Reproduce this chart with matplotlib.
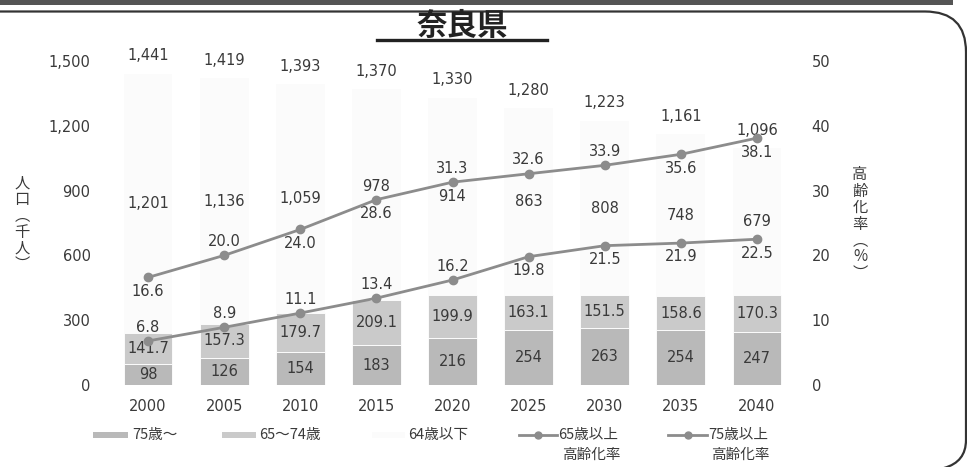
import matplotlib
matplotlib.use("Agg")
import matplotlib.pyplot as plt
from matplotlib.path import Path
from matplotlib.patches import PathPatch, Rectangle
from matplotlib.lines import Line2D
import numpy as np

plt.rcParams['font.family'] = ['DejaVu Sans', 'Noto Sans CJK JP']

# ---- data ----
years = ['2000', '2005', '2010', '2015', '2020', '2025', '2030', '2035', '2040']
pop_75over = [98, 126, 154, 183, 216, 254, 263, 254, 247]
pop_65_74 = [141.7, 157.3, 179.7, 209.1, 199.9, 163.1, 151.5, 158.6, 170.3]
pop_under64 = [1201, 1136, 1059, 978, 914, 863, 808, 748, 679]
pop_total = [1441, 1419, 1393, 1370, 1330, 1280, 1223, 1161, 1096]
rate_65over = [16.6, 20.0, 24.0, 28.6, 31.3, 32.6, 33.9, 35.6, 38.1]
rate_75over = [6.8, 8.9, 11.1, 13.4, 16.2, 19.8, 21.5, 21.9, 22.5]
left_ticks = [0, 300, 600, 900, 1200, 1500]
right_ticks = [0, 10, 20, 30, 40, 50]

W, H = 967, 467
fig = plt.figure(figsize=(W / 100, H / 100), dpi=100)
fx = lambda x: x / W
fy = lambda y: 1 - y / H

txt = '#3a3a3a'
c75 = '#b9b9b9'
c6574 = '#cacaca'
cu64 = '#fbfbfb'
cline = '#8c8c8c'
jp = ['Noto Sans CJK JP', 'DejaVu Sans']

ax = fig.add_axes([fx(110), fy(385), (795 - 110) / W, (385 - 61) / H])
ax2 = ax.twinx()
x = np.arange(len(years))
bw = 0.64
b1 = np.array(pop_75over, dtype=float)
b2 = np.array(pop_65_74, dtype=float)
b3 = np.array(pop_under64, dtype=float)

ax.bar(x, b1, bw, color=c75, edgecolor='white', linewidth=0.6, zorder=2)
ax.bar(x, b2, bw, bottom=b1, color=c6574, edgecolor='white', linewidth=0.6, zorder=2)
ax.bar(x, b3, bw, bottom=b1 + b2, color=cu64, edgecolor='none', zorder=1)

ax.set_xlim(-0.5, len(years) - 0.5)
ax.set_ylim(0, 1500)
ax.set_yticks(left_ticks)
ax.set_yticklabels([f'{v:,}' for v in left_ticks])
ax.set_xticks(x)
ax.set_xticklabels(years)
ax2.set_ylim(0, 50)
ax2.set_yticks(right_ticks)
for a in (ax, ax2):
    for s in a.spines.values():
        s.set_visible(False)
ax.tick_params(axis='y', length=0, pad=14, labelsize=10.5, labelcolor=txt)
ax.tick_params(axis='x', length=0, pad=10, labelsize=10.5, labelcolor=txt)
ax2.tick_params(axis='y', length=0, pad=12, labelsize=10.5, labelcolor=txt)

fs = 10.5
# nudges (points) for the under-64 labels
nudge_u64 = [0, 0, 0, 6, 0, 0, 0, 0, 0]
for i in range(len(years)):
    ax.text(x[i], b1[i] / 2, f'{pop_75over[i]}', ha='center', va='center', fontsize=fs, color=txt, zorder=5)
    ax.text(x[i], b1[i] + b2[i] / 2, f'{pop_65_74[i]:.1f}', ha='center', va='center', fontsize=fs, color=txt, zorder=5)
    ax.annotate(f'{pop_under64[i]:,}', (x[i], b1[i] + b2[i] + b3[i] / 2), xytext=(0, nudge_u64[i]),
                textcoords='offset points', ha='center', va='center', fontsize=fs, color=txt, zorder=5)
    ax.annotate(f'{pop_total[i]:,}', (x[i], pop_total[i]), xytext=(0, 13), textcoords='offset points',
                ha='center', va='center', fontsize=fs, color=txt)

# lines
ax2.plot(x, rate_65over, color=cline, lw=2, marker='o', ms=6, zorder=4)
ax2.plot(x, rate_75over, color=cline, lw=2, marker='o', ms=6, zorder=4)
above65 = [False, True, False, False, True, True, True, False, False]
above75 = [True, True, True, True, True, False, False, False, False]
for i in range(len(years)):
    ax2.annotate(f'{rate_65over[i]:.1f}', (x[i], rate_65over[i]), xytext=(0, 10 if above65[i] else -10),
                 textcoords='offset points', ha='center', va='center', fontsize=fs, color=txt)
    ax2.annotate(f'{rate_75over[i]:.1f}', (x[i], rate_75over[i]), xytext=(0, 10 if above75[i] else -10),
                 textcoords='offset points', ha='center', va='center', fontsize=fs, color=txt)

# axis titles (vertical)
fig.text(fx(22), fy(224), '人\n口\n︵\n千\n人\n︶', ha='center', va='center', fontsize=11,
         color=txt, family=jp, linespacing=0.95)
fig.text(fx(860), fy(224), '高\n齢\n化\n率\n︵\n%\n︶', ha='center', va='center', fontsize=11,
         color=txt, family=jp, linespacing=0.95)

# title
fig.text(fx(462), fy(26), '奈良県', ha='center', va='center', fontsize=22,
         fontweight='bold', color='#222222', family=jp)
fig.add_artist(Line2D([fx(377), fx(547)], [fy(40), fy(40)], color='#222222', lw=2.4,
                      transform=fig.transFigure))

# frame
fig.add_artist(Rectangle((0, fy(5)), fx(953), 5 / H, transform=fig.transFigure,
                         facecolor='#555555', edgecolor='none'))
verts = [(fx(0), fy(11.5)), (fx(925), fy(11.5)), (fx(966), fy(11.5)), (fx(966), fy(52)),
         (fx(966), fy(440)), (fx(966), fy(462)), (fx(944), fy(468))]
codes = [Path.MOVETO, Path.LINETO, Path.CURVE3, Path.CURVE3, Path.LINETO, Path.CURVE3, Path.CURVE3]
fig.add_artist(PathPatch(Path(verts, codes), transform=fig.transFigure, facecolor='none',
                         edgecolor='#333333', lw=1.6))

# legend (manual)
ly1, ly2 = fy(435), fy(455)
def swatch(x0, x1, col):
    fig.add_artist(Rectangle((fx(x0), ly1 - 3 / H), fx(x1) - fx(x0), 6 / H, transform=fig.transFigure,
                             facecolor=col, edgecolor='none'))
def lgline(x0, x1):
    fig.add_artist(Line2D([fx(x0), fx(x1)], [ly1, ly1], color=cline, lw=2, transform=fig.transFigure))
    fig.add_artist(Line2D([fx((x0 + x1) / 2)], [ly1], color=cline, marker='o', ms=5,
                          transform=fig.transFigure))
swatch(93, 128, c75)
fig.text(fx(132), ly1, '75歳〜', ha='left', va='center', fontsize=fs, color=txt, family=jp)
swatch(222, 256, c6574)
fig.text(fx(259), ly1, '65〜74歳', ha='left', va='center', fontsize=fs, color=txt, family=jp)
swatch(372, 405, cu64)
fig.text(fx(408), ly1, '64歳以下', ha='left', va='center', fontsize=fs, color=txt, family=jp)
lgline(519, 557)
fig.text(fx(558), ly1, '65歳以上', ha='left', va='center', fontsize=fs, color=txt, family=jp)
fig.text(fx(562), ly2, '高齢化率', ha='left', va='center', fontsize=fs, color=txt, family=jp)
lgline(668, 707)
fig.text(fx(708), ly1, '75歳以上', ha='left', va='center', fontsize=fs, color=txt, family=jp)
fig.text(fx(711), ly2, '高齢化率', ha='left', va='center', fontsize=fs, color=txt, family=jp)

fig.savefig('out.png', dpi=100)
